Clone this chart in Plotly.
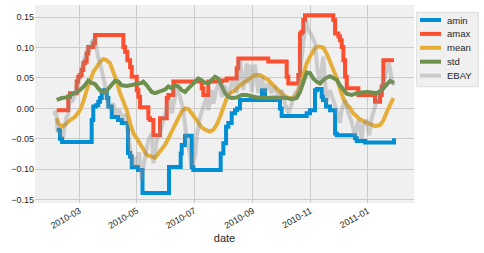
import pandas as pd
import plotly.graph_objects as go

# x values are days since 2010-03-01
BASE = "2010-03-01"
series_names = ["amin", "amax", "mean", "std", "EBAY"]

amin_day = [-24.0, -20.5, -18.3, 13.1, 14.8, 17.7, 20.1, 22.0, 23.8, 25.5, 29.1, 30.8, 34.4, 41.0, 45.0,
            51.6, 53.8, 55.6, 62.2, 67.0, 95.1, 107.5, 108.6, 112.1, 119.2, 120.9, 149.9, 152.7, 155.6,
            158.0, 161.6, 165.1, 167.2, 170.4, 193.7, 196.9, 212.8, 214.6, 241.1, 244.6, 249.9, 252.0,
            257.0, 258.4, 261.6, 265.9, 271.2, 273.0, 292.4, 294.2, 303.0, 331.6, 333.7]
amin_val = [-0.035, -0.050, -0.055, -0.019, 0.003, 0.005, 0.011, 0.017, 0.027, 0.030, 0.017, 0.003, -0.014,
            -0.019, -0.024, -0.073, -0.079, -0.096, -0.101, -0.139, -0.096, -0.074, -0.060, -0.045, -0.096,
            -0.101, -0.074, -0.057, -0.030, -0.024, -0.008, -0.003, 0.000, 0.014, 0.030, 0.014, 0.000,
            -0.0125, -0.008, -0.003, 0.030, 0.032, 0.019, 0.014, 0.003, -0.003, -0.041, -0.044, -0.049,
            -0.0535, -0.056, -0.056, -0.049]

amax_day = [-24.0, -11.7, -9.9, -2.8, -1.1, 0.7, 2.5, 4.2, 6.0, 7.8, 9.5, 14.8, 16.6, 46.7, 48.5, 50.9,
            53.8, 55.6, 60.9, 62.6, 64.4, 73.2, 75.0, 78.5, 85.6, 92.7, 94.4, 99.7, 129.8, 131.5, 136.8,
            151.0, 156.3, 166.9, 168.6, 200.4, 219.9, 221.6, 232.2, 234.0, 235.8, 237.5, 239.3, 269.3,
            271.2, 274.7, 276.5, 278.3, 280.0, 281.8, 283.6, 295.9, 313.6, 318.9, 320.7, 322.4, 333.7]
amax_val = [-0.003, 0.019, 0.025, 0.044, 0.052, 0.055, 0.063, 0.074, 0.077, 0.090, 0.101, 0.107, 0.1205,
            0.101, 0.093, 0.079, 0.068, 0.052, 0.030, 0.019, 0.002, -0.016, -0.019, -0.044, -0.016, 0.017,
            0.022, 0.044, 0.033, 0.022, 0.044, 0.046, 0.049, 0.066, 0.082, 0.077, 0.052, 0.041, 0.055,
            0.123, 0.126, 0.145, 0.153, 0.145, 0.123, 0.118, 0.112, 0.101, 0.079, 0.052, 0.033, 0.022,
            0.011, 0.022, 0.036, 0.079, 0.079]

mean_day = [-24.0, -22.3, -18.7, -15.2, -9.9, -4.6, 0.7, 4.2, 7.8, 11.3, 14.8, 18.5, 22.0, 25.5, 29.1,
            32.6, 36.1, 39.7, 43.2, 46.7, 50.3, 53.8, 57.3, 60.9, 66.2, 71.5, 76.8, 80.3, 83.8, 87.4,
            90.9, 94.4, 98.0, 101.5, 105.0, 108.6, 112.1, 115.6, 119.2, 122.7, 126.2, 129.8, 133.3,
            138.6, 142.1, 145.7, 149.2, 152.7, 156.3, 159.8, 165.1, 170.4, 175.7, 181.0, 186.3, 191.6,
            195.1, 200.4, 205.7, 211.0, 216.3, 221.6, 227.0, 230.5, 234.0, 237.5, 241.1, 244.6, 249.9,
            253.4, 258.7, 262.3, 265.8, 269.3, 272.9, 276.4, 280.0, 283.5, 287.0, 290.5, 294.1, 297.6,
            302.9, 308.2, 313.6, 318.9, 322.4, 326.0, 329.5, 333.0]
mean_val = [-0.016, -0.024, -0.030, -0.027, -0.019, -0.014, -0.003, 0.011, 0.030, 0.044, 0.060, 0.068,
            0.077, 0.081, 0.079, 0.074, 0.060, 0.044, 0.025, 0.011, -0.003, -0.024, -0.041, -0.049, -0.063,
            -0.0765, -0.079, -0.081, -0.074, -0.068, -0.060, -0.049, -0.038, -0.024, -0.014, -0.005, 0.000,
            -0.001, -0.008, -0.016, -0.024, -0.031, -0.035, -0.038, -0.035, -0.027, -0.014, 0.003, 0.017,
            0.025, 0.030, 0.038, 0.044, 0.049, 0.055, 0.055, 0.052, 0.047, 0.038, 0.030, 0.022, 0.017,
            0.017, 0.022, 0.036, 0.055, 0.074, 0.085, 0.099, 0.102, 0.100, 0.090, 0.077, 0.064, 0.050,
            0.032, 0.016, 0.006, 0.001, -0.008, -0.013, -0.018, -0.022, -0.026, -0.029, -0.027, -0.020,
            -0.006, 0.007, 0.017]

std_day = [-24.0, -18.7, -13.4, -9.9, -4.6, 0.7, 6.0, 9.5, 13.1, 16.6, 20.1, 23.8, 27.3, 30.8, 34.4,
           37.9, 41.4, 45.0, 50.3, 55.6, 60.9, 66.2, 67.9, 71.5, 76.8, 80.3, 83.8, 87.4, 90.9, 94.4, 98.0,
           101.5, 105.0, 108.6, 112.1, 115.6, 119.2, 122.7, 126.2, 129.8, 133.3, 136.8, 140.4, 143.9,
           147.4, 151.0, 154.5, 158.0, 161.6, 166.9, 172.2, 177.5, 182.8, 188.1, 193.4, 198.7, 205.7,
           212.8, 219.9, 225.2, 230.5, 234.0, 237.5, 241.1, 244.6, 248.1, 251.7, 255.2, 260.5, 265.8,
           269.3, 272.9, 276.4, 280.0, 283.5, 288.8, 294.1, 299.4, 304.7, 310.0, 315.4, 320.7, 326.0,
           329.5, 333.7]
std_val = [0.014, 0.017, 0.018, 0.022, 0.025, 0.030, 0.038, 0.0455, 0.042, 0.040, 0.033, 0.027, 0.026,
           0.033, 0.041, 0.0455, 0.044, 0.038, 0.037, 0.038, 0.040, 0.042, 0.044, 0.038, 0.027, 0.025,
           0.027, 0.030, 0.031, 0.036, 0.033, 0.038, 0.036, 0.030, 0.027, 0.033, 0.038, 0.044, 0.049,
           0.046, 0.042, 0.041, 0.047, 0.052, 0.049, 0.038, 0.025, 0.019, 0.017, 0.018, 0.022, 0.022,
           0.020, 0.018, 0.018, 0.017, 0.018, 0.018, 0.017, 0.015, 0.017, 0.027, 0.041, 0.059, 0.058,
           0.049, 0.044, 0.041, 0.049, 0.053, 0.050, 0.047, 0.038, 0.030, 0.024, 0.022, 0.025, 0.026,
           0.027, 0.026, 0.025, 0.030, 0.038, 0.045, 0.042]

ebay_day = [-26.8, -24.7, -23.1, -20.5, -17.3, -14.1, -12.0, -9.9, -7.7, -4.6, -2.4, -0.3, 1.8, 3.9, 7.1,
            9.2, 11.3, 13.5, 15.6, 17.7, 19.8, 22.0, 24.1, 26.2, 28.3, 30.4, 32.6, 35.7, 38.9, 42.1, 45.3,
            48.5, 51.6, 53.8, 56.9, 59.1, 61.2, 63.3, 66.2, 67.9, 71.5, 73.2, 76.8, 78.5, 82.1, 85.6, 89.1,
            92.7, 96.2, 98.0, 99.7, 103.3, 106.8, 110.3, 113.9, 117.4, 119.2, 122.7, 124.5, 128.0, 131.5,
            135.1, 136.8, 140.4, 142.1, 145.7, 149.2, 151.0, 154.5, 158.0, 161.6, 163.3, 166.9, 170.4,
            173.9, 177.5, 179.2, 181.0, 182.8, 186.3, 189.8, 193.4, 196.9, 200.4, 204.0, 207.5, 211.0,
            214.6, 218.1, 221.6, 225.2, 228.7, 232.2, 234.0, 237.5, 240.4, 242.8, 246.4, 249.9, 252.4,
            255.2, 258.7, 262.3, 265.8, 269.3, 272.9, 276.4, 278.2, 281.7, 285.3, 288.8, 292.3, 295.8,
            299.4, 301.1, 304.7, 307.5, 310.0, 313.6, 317.1, 320.7, 324.2, 327.7, 329.5, 331.3, 333.7]
ebay_val = [-0.011, -0.004, -0.036, -0.040, -0.048, -0.016, -0.010, 0.018, 0.010, 0.022, 0.040, 0.050,
            0.060, 0.072, 0.090, 0.100, 0.097, 0.110, 0.113, 0.104, 0.085, 0.075, 0.060, 0.045, 0.030,
            0.005, 0.000, 0.008, -0.010, -0.002, -0.015, -0.010, -0.040, -0.070, -0.095, -0.080, -0.095,
            -0.072, -0.118, -0.096, -0.068, -0.052, -0.041, -0.090, -0.052, -0.041, -0.019, -0.003,
            0.014, -0.008, 0.008, 0.033, 0.019, -0.003, -0.052, -0.074, -0.096, -0.079, -0.046, -0.014,
            0.003, 0.019, -0.003, 0.030, 0.008, 0.033, 0.044, 0.019, 0.038, 0.019, 0.041, 0.047, 0.025,
            0.079, 0.030, 0.074, 0.041, 0.072, 0.027, 0.072, 0.025, 0.052, 0.027, 0.041, 0.025, 0.036,
            0.017, 0.030, 0.008, -0.008, 0.008, 0.025, 0.030, 0.052, 0.107, 0.145, 0.129, 0.120, 0.107,
            0.063, 0.045, 0.085, 0.010, 0.030, 0.014, -0.003, -0.024, -0.003, 0.014, -0.008, -0.022,
            -0.046, -0.019, -0.049, -0.027, -0.019, -0.044, -0.016, 0.003, 0.019, 0.036, 0.052, 0.075,
            0.066, 0.046, 0.038]

colors = ["#008fd5", "#fc4f30", "#e5ae38", "#6d904f", "rgba(139,139,139,0.36)"]
shapes_kind = ["hv", "hv", "linear", "linear", "linear"]

base = pd.Timestamp(BASE)
def to_dates(days):
    return base + pd.to_timedelta(days, unit="D")

data = [(amin_day, amin_val), (amax_day, amax_val), (mean_day, mean_val),
        (std_day, std_val), (ebay_day, ebay_val)]

FONT = "Liberation Sans, Arial, sans-serif"
fig = go.Figure()
for name, (d, v), c, sh in zip(series_names, data, colors, shapes_kind):
    fig.add_trace(go.Scatter(x=to_dates(d), y=v, name=name, mode="lines",
                             line=dict(color=c, width=4, shape=sh), showlegend=False))

# manual legend (layout in pixels converted to paper coordinates)
L, R, T, B = 35, 70, 5, 50
W, H = 484, 253
pw, ph = W - L - R, H - T - B
def px(x):
    return (x - L) / pw
def py(y):
    return (H - B - y) / ph

shapes = [dict(type="rect", xref="paper", yref="paper", x0=px(416.7), x1=px(478.3),
               y0=py(86.7), y1=py(12.3), fillcolor="#f0f0f0",
               line=dict(color="#dcdcdc", width=1), layer="above")]
annotations = []
for i, (name, c) in enumerate(zip(series_names, colors)):
    yy = 20 + i * 13.9
    shapes.append(dict(type="line", xref="paper", yref="paper", x0=px(420), x1=px(441),
                       y0=py(yy), y1=py(yy), line=dict(color=c, width=4), layer="above"))
    annotations.append(dict(xref="paper", yref="paper", x=px(445), y=py(yy), text=name,
                            showarrow=False, xanchor="left", yanchor="middle",
                            font=dict(family=FONT, size=9.5, color="#262626")))

fig.update_layout(
    width=W, height=H,
    margin=dict(l=L, r=R, t=T, b=B, pad=0),
    paper_bgcolor="white", plot_bgcolor="#f0f0f0",
    font=dict(family=FONT, size=9, color="#262626"),
    shapes=shapes, annotations=annotations,
    xaxis=dict(type="date", range=[to_dates([-47.0])[0], to_dates([354.9])[0]],
               tick0="2010-03-01", dtick="M2", tickformat="%Y-%m", tickangle=-30,
               showgrid=True, gridcolor="#cbcbcb", gridwidth=1, zeroline=False,
               showline=False, ticks="", title=dict(text="date", font=dict(size=11), standoff=4)),
    yaxis=dict(range=[-0.1553, 0.1698], tick0=0, dtick=0.05, tickformat=".2f",
               showgrid=True, gridcolor="#cbcbcb", gridwidth=1, zeroline=False,
               showline=False, ticks=""),
)
fig.write_html("out.html")
